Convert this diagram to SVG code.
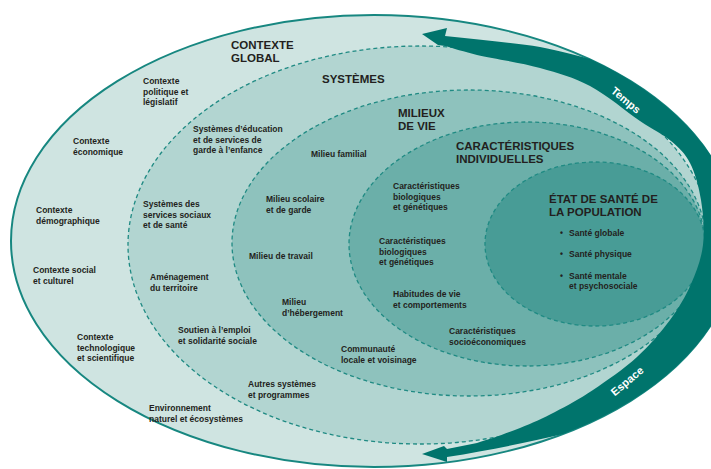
<svg xmlns="http://www.w3.org/2000/svg" width="711" height="469" viewBox="0 0 711 469">
<style>
.lbl{font-family:"Liberation Sans",Arial,sans-serif;font-weight:bold;font-size:8.5px;fill:#231f20}
.hdr{font-family:"Liberation Sans",Arial,sans-serif;font-weight:bold;font-size:11.5px;fill:#231f20}
.ring{stroke:#1f8a83;stroke-width:1.3;stroke-dasharray:4 3}
.alb{font-family:"Liberation Sans",Arial,sans-serif;font-weight:bold;font-size:11px;fill:#ffffff}
</style>
<rect width="711" height="469" fill="#ffffff"/>
<g id="contexte-global">
<ellipse cx="374" cy="241" rx="363" ry="226" fill="#cfe4e1" stroke="#178780" stroke-width="2"/>
<text class="hdr"><tspan x="231" y="49">CONTEXTE</tspan><tspan x="231" y="62">GLOBAL</tspan></text>
<text class="lbl"><tspan x="143" y="84">Contexte</tspan><tspan x="143" y="94.5">politique et</tspan><tspan x="143" y="105">législatif</tspan></text>
<text class="lbl"><tspan x="73" y="144">Contexte</tspan><tspan x="73" y="155">économique</tspan></text>
<text class="lbl"><tspan x="36" y="213">Contexte</tspan><tspan x="36" y="223.5">démographique</tspan></text>
<text class="lbl"><tspan x="33" y="273">Contexte social</tspan><tspan x="33" y="283.5">et culturel</tspan></text>
<text class="lbl"><tspan x="77" y="340">Contexte</tspan><tspan x="77" y="350.5">technologique</tspan><tspan x="77" y="361">et scientifique</tspan></text>
<text class="lbl"><tspan x="149" y="411">Environnement</tspan><tspan x="149" y="421.5">naturel et écosystèmes</tspan></text>
</g>
<g id="systemes">
<ellipse class="ring" cx="420" cy="245" rx="292" ry="199" fill="#b2d5d1"/>
<text class="hdr" x="322" y="83">SYSTÈMES</text>
<text class="lbl"><tspan x="193" y="132">Systèmes d’éducation</tspan><tspan x="193" y="142.5">et de services de</tspan><tspan x="193" y="153">garde à l’enfance</tspan></text>
<text class="lbl"><tspan x="143" y="207">Systèmes des</tspan><tspan x="143" y="217.5">services sociaux</tspan><tspan x="143" y="228">et de santé</tspan></text>
<text class="lbl"><tspan x="150" y="280">Aménagement</tspan><tspan x="150" y="290.5">du territoire</tspan></text>
<text class="lbl"><tspan x="178" y="333">Soutien à l’emploi</tspan><tspan x="178" y="343.5">et solidarité sociale</tspan></text>
<text class="lbl"><tspan x="248" y="387">Autres systèmes</tspan><tspan x="248" y="397.5">et programmes</tspan></text>
</g>
<g id="milieux-de-vie">
<ellipse class="ring" cx="469" cy="243" rx="237" ry="153" fill="#8ec2bd"/>
<text class="hdr"><tspan x="398" y="117">MILIEUX</tspan><tspan x="398" y="130">DE VIE</tspan></text>
<text class="lbl" x="311" y="157">Milieu familial</text>
<text class="lbl"><tspan x="266" y="202">Milieu scolaire</tspan><tspan x="266" y="212.5">et de garde</tspan></text>
<text class="lbl" x="249" y="259">Milieu de travail</text>
<text class="lbl"><tspan x="282" y="305">Milieu</tspan><tspan x="282" y="315.5">d’hébergement</tspan></text>
<text class="lbl"><tspan x="341" y="352">Communauté</tspan><tspan x="341" y="362.5">locale et voisinage</tspan></text>
</g>
<g id="caracteristiques-individuelles">
<ellipse class="ring" cx="527" cy="244" rx="178" ry="122" fill="#6bafa9"/>
<text class="hdr"><tspan x="456" y="150">CARACTÉRISTIQUES</tspan><tspan x="456" y="163">INDIVIDUELLES</tspan></text>
<text class="lbl"><tspan x="393" y="189">Caractéristiques</tspan><tspan x="393" y="199.5">biologiques</tspan><tspan x="393" y="210">et génétiques</tspan></text>
<text class="lbl"><tspan x="379" y="244">Caractéristiques</tspan><tspan x="379" y="254.5">biologiques</tspan><tspan x="379" y="265">et génétiques</tspan></text>
<text class="lbl"><tspan x="393" y="297">Habitudes de vie</tspan><tspan x="393" y="307.5">et comportements</tspan></text>
<text class="lbl"><tspan x="449" y="334">Caractéristiques</tspan><tspan x="449" y="344.5">socioéconomiques</tspan></text>
</g>
<g id="etat-de-sante">
<ellipse class="ring" cx="595" cy="244" rx="110" ry="82" fill="#489c96"/>
<text class="hdr"><tspan x="549" y="203">ÉTAT DE SANTÉ DE</tspan><tspan x="549" y="216">LA POPULATION</tspan></text>
<text class="lbl"><tspan x="560" y="236">•</tspan><tspan x="569" y="236">Santé globale</tspan></text>
<text class="lbl"><tspan x="560" y="257">•</tspan><tspan x="569" y="257">Santé physique</tspan></text>
<text class="lbl"><tspan x="560" y="278.5">•</tspan><tspan x="569" y="278.5">Santé mentale</tspan><tspan x="569" y="289">et psychosociale</tspan></text>
</g>
<g id="connectors">
<path id="temps-espace" fill="#00746c" d="M422,34 L447,28 L445,36 C480,40 515,43 540,47 C560,51 575,55 590,59 A363 226 0 0 1 563,434 C530,442 490,450 447,457 L447,462 L422,454 L444,446 L447,449 C457,447 467,445 477,443 C489.2,439.5 507,433.2 520,428 C533,422.8 542.8,418.3 555,412 C567.2,405.7 579.3,399.2 593,390 C606.7,380.8 624.2,368.7 637,357 C649.8,345.3 661,332.2 670,320 C679,307.8 685.5,296.5 691,284 C696.5,271.5 701.3,259 703,245 C704.7,231 703.2,213.7 701,200 C698.8,186.3 695,172.8 690,163 C685,153.2 679.3,148 671,141 C662.7,134 653.5,130.2 640,121 C626.5,111.8 606.7,94.8 590,86 C573.3,77.2 558.8,73.2 540,68 C521.2,62.8 492.8,58.5 477,55 C465,52 452,48 445,46 L438,45 Z"/>
<text class="alb" text-anchor="middle" transform="translate(626,100) rotate(40)" y="4">Temps</text>
<text class="alb" text-anchor="middle" transform="translate(627,381) rotate(-40)" y="4">Espace</text>
</g>
</svg>
